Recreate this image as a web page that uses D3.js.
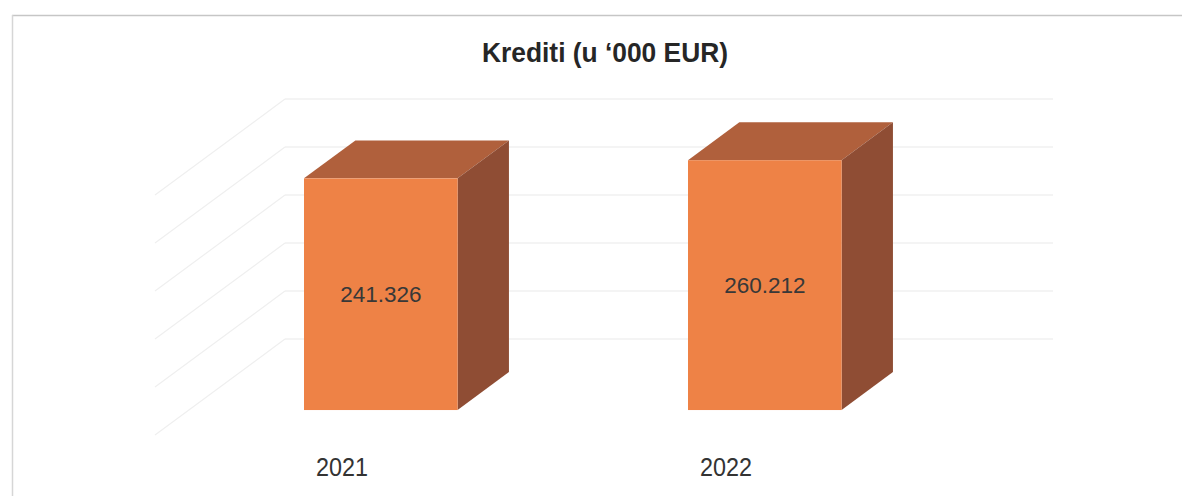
<!DOCTYPE html>
<html>
<head>
<meta charset="utf-8">
<script src="https://cdn.jsdelivr.net/npm/d3@7/dist/d3.min.js"></script>
<style>
  html, body { margin: 0; padding: 0; background: #ffffff; }
  svg { display: block; }
</style>
</head>
<body>
<svg id="chart" width="1182" height="496"></svg>
<script>
// Krediti (u '000 EUR) – 3D column chart
const chartTitle = "Krediti (u \u2018000 EUR)";
const years = ["2021", "2022"];
const loans = [241326, 260212];          // in thousands of EUR
const gridTicks = [0, 50000, 100000, 150000, 200000, 250000];

// local number format: dot as thousands separator
const fmt = d3.formatLocale({ decimal: ",", thousands: ".", grouping: [3], currency: ["", " EUR"] }).format(",.0f");

const svg = d3.select("#chart");
const W = 1182, H = 496;

// oblique projection: depth 0 = front edge of floor, depth 1 = back wall
const DX = 130, DY = 96;
const barD0 = 0.26, barD1 = 0.655;
const proj = (x, y, d) => [x + d * DX, y - d * DY];

const x = d3.scaleBand().domain(years).range([155, 923]).paddingInner(0.6).paddingOuter(0.3);
const y = d3.scaleLinear().domain([0, 250000]).range([435, 195]);

// page frame: top and left edges
svg.append("line").attr("x1", 12).attr("x2", W).attr("y1", 15.5).attr("y2", 15.5)
  .attr("stroke", "#c6c6c6").attr("stroke-width", 1.5);
svg.append("line").attr("x1", 12.5).attr("x2", 12.5).attr("y1", 15).attr("y2", H)
  .attr("stroke", "#d6d6d6").attr("stroke-width", 1.5);

// title
svg.append("text")
  .attr("x", 605).attr("y", 62)
  .attr("text-anchor", "middle")
  .attr("font-family", "Liberation Sans, Arial, sans-serif")
  .attr("font-weight", "bold")
  .attr("font-size", 28.5)
  .attr("textLength", 246).attr("lengthAdjust", "spacingAndGlyphs")
  .attr("fill", "#262626")
  .text(chartTitle);

// gridlines: left side wall (fainter) and back wall
const [xl, xr] = x.range();
const grid = svg.append("g").attr("fill", "none").attr("stroke-width", 1.2);
gridTicks.forEach(t => {
  const yy = y(t);
  const a = proj(xl, yy, 0), b = proj(xl, yy, 1), c = proj(xr, yy, 1);
  grid.append("path").attr("d", d3.line()([a, b])).attr("stroke", "#efefef");
  grid.append("path").attr("d", d3.line()([b, c])).attr("stroke", "#e9e9e9");
});

// bars as boxes: top, side, front
const bars = svg.append("g").selectAll("g").data(years.map((k, i) => ({ year: k, value: loans[i] }))).join("g");
const bw = x.bandwidth();
const depthDX = (barD1 - barD0) * DX, depthDY = (barD1 - barD0) * DY;

bars.each(function (d) {
  const g = d3.select(this);
  const [fx, fyBase] = proj(x(d.year), y(0), barD0);
  const [, fyTop] = proj(x(d.year), y(d.value), barD0);
  const poly = pts => pts.map(p => p.join(",")).join(" ");
  // top face
  g.append("polygon")
    .attr("points", poly([[fx, fyTop], [fx + depthDX, fyTop - depthDY], [fx + bw + depthDX, fyTop - depthDY], [fx + bw, fyTop]]))
    .attr("fill", "#b0603c");
  // right side face
  g.append("polygon")
    .attr("points", poly([[fx + bw, fyTop], [fx + bw + depthDX, fyTop - depthDY], [fx + bw + depthDX, fyBase - depthDY], [fx + bw, fyBase]]))
    .attr("fill", "#8f4d34");
  // front face
  g.append("rect")
    .attr("x", fx).attr("y", fyTop).attr("width", bw).attr("height", fyBase - fyTop)
    .attr("fill", "#ee8246");
  // value label
  g.append("text")
    .attr("x", fx + bw / 2).attr("y", (fyTop + fyBase) / 2)
    .attr("dy", "0.36em")
    .attr("text-anchor", "middle")
    .attr("font-family", "Liberation Sans, Arial, sans-serif")
    .attr("font-size", 22.5)
    .attr("fill", "#383838")
    .text(fmt(d.value));
});

// category axis along the front edge of the floor
const axis = svg.append("g")
  .attr("transform", "translate(-5,458)")
  .call(d3.axisBottom(x).tickSize(0).tickPadding(0));
axis.select(".domain").remove();
axis.selectAll("text")
  .attr("font-family", "Liberation Sans, Arial, sans-serif")
  .attr("font-size", 25)
  .attr("fill", "#333333")
  .attr("dy", "0.72em")
  .attr("textLength", 52).attr("lengthAdjust", "spacingAndGlyphs");
</script>
</body>
</html>
